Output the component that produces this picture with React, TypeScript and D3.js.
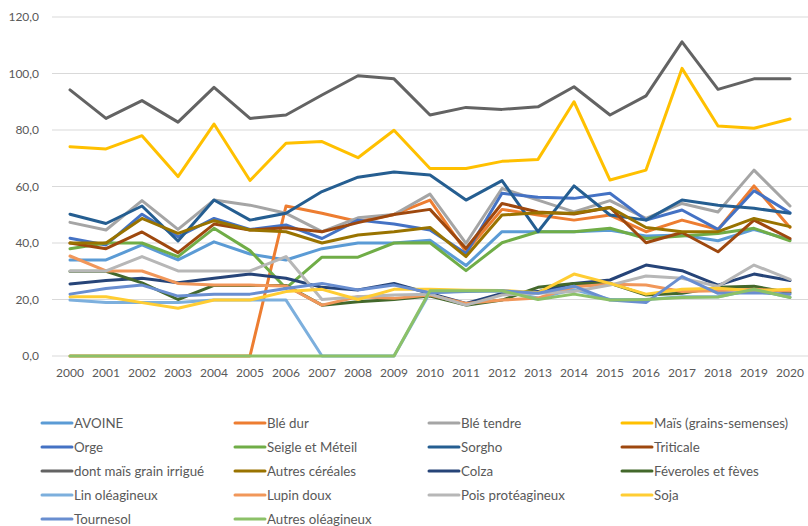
import React from "react";
import * as d3 from "d3";

const years = d3.range(2000, 2021).map(String);
const yTicks = [0, 20, 40, 60, 80, 100, 120];

const seriesNames = [
  "AVOINE", "Blé dur", "Blé tendre", "Maïs (grains-semenses)",
  "Orge", "Seigle et Méteil", "Sorgho", "Triticale",
  "dont maïs grain irrigué", "Autres céréales", "Colza", "Féveroles et fèves",
  "Lin oléagineux", "Lupin doux", "Pois protéagineux", "Soja",
  "Tournesol", "Autres oléagineux",
];

const seriesColors = [
  "#5B9BD5", "#ED7D31", "#A5A5A5", "#FFC000",
  "#4472C4", "#70AD47", "#255E91", "#9E480E",
  "#636363", "#997300", "#264478", "#43682B",
  "#7CAFDD", "#F1975A", "#B7B7B7", "#FFCD33",
  "#698ED0", "#8CC168",
];

const avoine = [34, 34, 39.3, 34, 40.4, 36.1, 34, 38, 40, 40, 41, 32, 44, 44, 44, 44.5, 42.5, 42.8, 40.8, 44.8, 41.2];
const bleDur = [0, 0, 0, 0, 0, 0, 53.1, 50.5, 47.6, 50.1, 55.2, 36.9, 51.9, 49.9, 48.1, 49.9, 44, 48.1, 44.8, 60.2, 45.5];
const bleTendre = [47.3, 44.6, 55, 44.8, 55.2, 53.4, 50.5, 44, 48.9, 50.1, 57.3, 39.9, 59.3, 55.2, 51, 55, 48.7, 54, 51, 65.8, 53.1];
const mais = [74.1, 73.3, 78, 63.5, 82.1, 62.1, 75.3, 75.9, 70.2, 79.9, 66.4, 66.4, 68.9, 69.6, 90, 62.3, 65.8, 101.8, 81.4, 80.6, 83.9];
const orge = [41.7, 39.3, 50.2, 42.2, 48.7, 44.8, 46.4, 41.6, 48.1, 46.7, 44.6, 36.3, 57.6, 56.2, 55.8, 57.6, 48.1, 51.7, 44.8, 58.5, 50.7];
const seigle = [38, 40, 40, 35.2, 45.2, 37.3, 24, 35, 35, 40, 40.1, 30.2, 40.1, 44, 44, 45.2, 41.6, 42.5, 43.4, 45.2, 40.8];
const sorgho = [50.2, 46.9, 53.1, 40.7, 55.2, 48.1, 50.5, 58.2, 63.3, 65.1, 64.1, 55.2, 62.1, 44, 60.2, 49.9, 48.1, 55.2, 53.4, 52.3, 50.5];
const triticale = [40, 38, 43.9, 36.6, 46.7, 44.6, 45.4, 44, 47.2, 50.1, 51.9, 38.1, 54, 51, 50.3, 52.6, 40.1, 43.7, 36.9, 48.1, 41.6];
const maisIrrigue = [94.2, 84.1, 90.4, 82.8, 95.1, 84.1, 85.3, 92.4, 99.2, 98.1, 85.3, 88, 87.3, 88.2, 95.3, 85.3, 92.1, 111.2, 94.4, 98.1, 98.1];
const autresCereales = [40, 40, 48.7, 43.4, 47.9, 44.6, 44, 40, 42.8, 44, 45.5, 35.2, 49.9, 50.7, 50.5, 52.6, 45.5, 44, 44, 48.7, 45.8];
const colza = [25.5, 26.7, 27.5, 25.9, 27.5, 29, 27.5, 24.3, 23.4, 25.7, 22.1, 18.6, 22.1, 22.8, 25.7, 26.9, 32.2, 30.2, 25.1, 29, 26.7];
const feveroles = [30, 30, 25.9, 20, 25, 25, 25, 18, 19.2, 20, 21.2, 18, 19.8, 24.3, 25.7, 25.7, 21.6, 22.2, 24.3, 24.7, 22.4];
const lin = [19.8, 18.9, 18.9, 18.9, 19.8, 19.8, 19.8, 0, 0, 0, 22.5, 23, 23, 20.5, 23.5, 20, 20, 21, 21, 23.4, 20.8];
const lupin = [35.4, 30.1, 30.1, 25.7, 25.1, 25.1, 24.8, 18, 21, 20.4, 21.6, 18.6, 19.8, 20.5, 24.5, 25.4, 25.1, 22.8, 23.1, 23.6, 23];
const pois = [30.1, 30.1, 35.2, 30.1, 30.1, 30.1, 35.2, 20, 21, 21.6, 21.9, 18, 21.6, 22.2, 22.8, 25.1, 28.3, 27.5, 24.7, 32.2, 27.1];
const soja = [21, 21, 18.9, 16.9, 19.8, 19.8, 22.8, 23.6, 20, 23.6, 23.6, 23.3, 23.2, 22.4, 29, 25.7, 21.9, 23.6, 24, 23.1, 23.6];
const tournesol = [21.9, 23.9, 25.1, 21.2, 21.9, 21.9, 23.9, 25.7, 23.4, 25.1, 22.4, 22.8, 23.1, 22.2, 24.7, 19.8, 18.9, 28.1, 22.2, 22.4, 21.9];
const autresOleagineux = [0, 0, 0, 0, 0, 0, 0, 0, 0, 0, 23.1, 23.1, 23.1, 20, 21.9, 19.8, 20, 20.7, 20.9, 23.6, 20.7];

const seriesValues = [
  avoine, bleDur, bleTendre, mais,
  orge, seigle, sorgho, triticale,
  maisIrrigue, autresCereales, colza, feveroles,
  lin, lupin, pois, soja,
  tournesol, autresOleagineux,
];

const W = 808;
const H = 526;
const FONT = "Lato, 'Open Sans', sans-serif";
const TEXT = "#595959";

export default function App() {
  const x = d3.scalePoint<string>().domain(years).range([52, 808]).padding(0.5);
  const y = d3.scaleLinear().domain([0, 120]).range([356, 17]);
  const line = d3
    .line<number>()
    .x((_, i) => x(years[i]) as number)
    .y((d) => y(d));

  const fmt = (v: number) => v.toFixed(1).replace(".", ",");
  const legendCols = [42, 235, 429, 622];

  return (
    <svg
      width={W}
      height={H}
      style={{ position: "absolute", left: 0, top: 0, background: "#fff" }}
      fontFamily={FONT}
    >
      {yTicks.map((t) => (
        <g key={t}>
          <line x1={52} x2={808} y1={y(t)} y2={y(t)} stroke="#D9D9D9" strokeWidth={1} />
          <text x={39} y={y(t)} dy="0.35em" textAnchor="end" fontSize={12} fill={TEXT}>
            {fmt(t)}
          </text>
        </g>
      ))}
      {years.map((yr) => (
        <text key={yr} x={x(yr)} y={377} textAnchor="middle" fontSize={12} fill={TEXT}>
          {yr}
        </text>
      ))}
      {seriesValues.map((vals, i) => (
        <path
          key={seriesNames[i]}
          d={line(vals) || ""}
          fill="none"
          stroke={seriesColors[i]}
          strokeWidth={3}
          strokeLinejoin="round"
          strokeLinecap="round"
        />
      ))}
      {seriesNames.map((name, i) => {
        const cx = legendCols[i % 4];
        const cy = 423 + Math.floor(i / 4) * 24;
        return (
          <g key={name}>
            <line x1={cx} x2={cx + 30} y1={cy} y2={cy} stroke={seriesColors[i]} strokeWidth={3} strokeLinecap="round" />
            <text x={cx + 32} y={cy} dy="0.35em" fontSize={13.3} fill={TEXT}>
              {name}
            </text>
          </g>
        );
      })}
    </svg>
  );
}
